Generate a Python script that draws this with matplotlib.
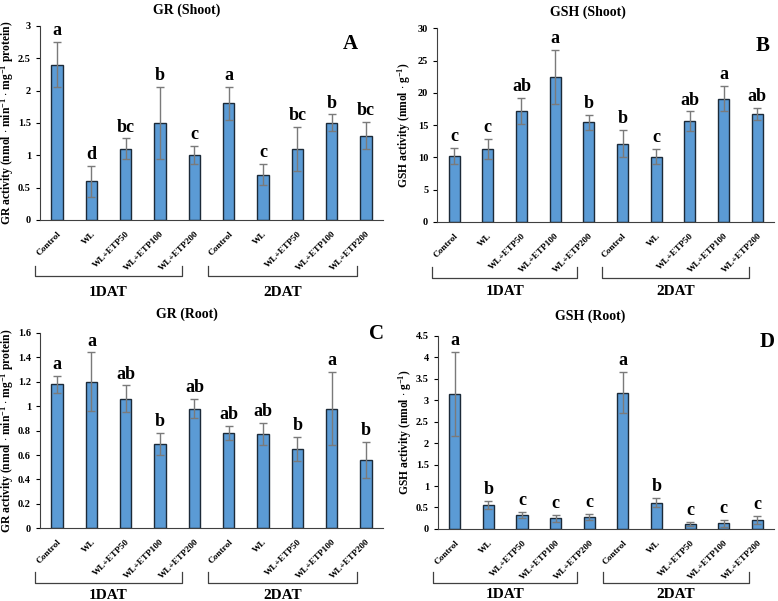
import numpy as np
import matplotlib
matplotlib.use("Agg")
from matplotlib import pyplot as plt
from matplotlib.ticker import FuncFormatter

plt.rcParams['font.family'] = ['Liberation Serif', 'DejaVu Serif']
plt.rcParams['font.weight'] = 'bold'
plt.rcParams['mathtext.fontset'] = 'custom'
plt.rcParams['mathtext.rm'] = 'Liberation Serif:bold'
plt.rcParams['mathtext.default'] = 'rm'

treatments = ['Control', 'WL', 'WL+ETP50', 'WL+ETP100', 'WL+ETP200',
              'Control', 'WL', 'WL+ETP50', 'WL+ETP100', 'WL+ETP200']
groups = ['1DAT', '2DAT']

# GR (Shoot)
gr_shoot = [2.4, 0.6, 1.1, 1.5, 1.0, 1.8, 0.7, 1.1, 1.5, 1.3]
gr_shoot_err = [0.35, 0.24, 0.16, 0.56, 0.14, 0.26, 0.16, 0.34, 0.13, 0.21]
gr_shoot_let = ['a', 'd', 'bc', 'b', 'c', 'a', 'c', 'bc', 'b', 'bc']

# GSH (Shoot)
gsh_shoot = [10.2, 11.3, 17.2, 22.4, 15.4, 12.1, 10.1, 15.6, 19.1, 16.7]
gsh_shoot_err = [1.2, 1.5, 2.0, 4.2, 1.2, 2.1, 1.2, 1.5, 2.0, 1.0]
gsh_shoot_let = ['c', 'c', 'ab', 'a', 'b', 'b', 'c', 'ab', 'a', 'ab']

# GR (Root)
gr_root = [1.18, 1.20, 1.06, 0.69, 0.98, 0.78, 0.77, 0.65, 0.98, 0.56]
gr_root_err = [0.07, 0.24, 0.11, 0.09, 0.08, 0.06, 0.09, 0.10, 0.30, 0.15]
gr_root_let = ['a', 'a', 'ab', 'b', 'ab', 'ab', 'ab', 'b', 'a', 'b']

# GSH (Root)
gsh_root = [3.15, 0.56, 0.33, 0.25, 0.28, 3.18, 0.61, 0.12, 0.13, 0.21]
gsh_root_err = [0.98, 0.09, 0.07, 0.08, 0.07, 0.48, 0.11, 0.05, 0.08, 0.10]
gsh_root_let = ['a', 'b', 'c', 'c', 'c', 'a', 'b', 'c', 'c', 'c']

gr_label = 'GR activity (nmol $\\cdot$ min$^{-1}$ $\\cdot$ mg$^{-1}$ protein)'
gsh_label = 'GSH activity (nmol $\\cdot$ g$^{-1}$)'


def fmt_g(v, pos):
    return '%g' % round(v, 2)


def draw_panel(ax, vals, errs, letters, ymax, step, ylabel, lab_x, brk):
    x = np.arange(len(vals))
    ax.bar(x, vals, width=0.33, color='#5B9BD5', edgecolor='#1c2a38', linewidth=1.0, zorder=2)
    ax.errorbar(x, vals, yerr=errs, fmt='none', ecolor='#7a7a7a', elinewidth=1.0,
                capsize=3, capthick=1.0, zorder=3)
    for xi, v, e, t in zip(x, vals, errs, letters):
        ax.text(xi, v + e + ymax * 0.015, t, ha='center', va='bottom',
                fontsize=13, fontweight='bold')
    ax.set_xlim(-0.5, len(vals) - 0.5)
    ax.set_ylim(0, ymax)
    ax.set_yticks(np.arange(0, ymax + step / 2, step))
    ax.yaxis.set_major_formatter(FuncFormatter(fmt_g))
    ax.set_xticks(x)
    ax.set_xticklabels(treatments, rotation=45, ha='right', rotation_mode='anchor',
                       fontsize=6.7, fontweight='bold')
    ax.tick_params(axis='x', length=0, pad=7)
    ax.tick_params(axis='y', labelsize=7.5, length=3, direction='out', width=0.8)
    for lab in ax.get_yticklabels():
        lab.set_fontweight('bold')
    ax.spines['top'].set_visible(False)
    ax.spines['right'].set_visible(False)
    ax.spines['left'].set_color('#404040')
    ax.spines['bottom'].set_color('#404040')
    ax.set_ylabel(ylabel, fontsize=8.4, fontweight='bold')
    ax.yaxis.set_label_coords(lab_x, 0.5)

    # group brackets below tick labels
    tr = ax.get_xaxis_transform()
    top, bot, lab_y = brk
    spans = [(-0.65, 3.65), (4.4, 8.75)]
    for (x0, x1), g in zip(spans, groups):
        ax.plot([x0, x0, x1, x1], [top, bot, bot, top], transform=tr,
                color='#404040', lw=0.9, clip_on=False)
        ax.text((x0 + x1) / 2, lab_y, g, transform=tr, ha='center', va='center',
                fontsize=11, fontweight='bold')


fig = plt.figure(figsize=(7.78, 6.01), dpi=100)
axA = fig.add_axes([0.0514, 0.634, 0.441, 0.323])
axB = fig.add_axes([0.562, 0.631, 0.433, 0.322])
axC = fig.add_axes([0.0514, 0.121, 0.441, 0.325])
axD = fig.add_axes([0.563, 0.120, 0.432, 0.321])

draw_panel(axA, gr_shoot, gr_shoot_err, gr_shoot_let, 3, 0.5, gr_label, -0.069, (-0.235, -0.29, -0.376))
draw_panel(axB, gsh_shoot, gsh_shoot_err, gsh_shoot_let, 30, 5, gsh_label, -0.071, (-0.232, -0.289, -0.36))
draw_panel(axC, gr_root, gr_root_err, gr_root_let, 1.6, 0.2, gr_label, -0.069, (-0.226, -0.282, -0.344))
draw_panel(axD, gsh_root, gsh_root_err, gsh_root_let, 4.5, 0.5, gsh_label, -0.071, (-0.222, -0.28, -0.342))

titles = [('GR (Shoot)', 187, 10), ('GSH (Shoot)', 588, 12),
          ('GR (Root)', 187, 314), ('GSH (Root)', 590, 316)]
for t, px, py in titles:
    fig.text(px / 778, 1 - py / 601, t, ha='center', va='center', fontsize=10, fontweight='bold')

panels = [('A', 350, 44), ('B', 763, 46), ('C', 377, 334), ('D', 767, 342)]
for t, px, py in panels:
    fig.text(px / 778, 1 - py / 601, t, ha='center', va='center', fontsize=15, fontweight='bold')

fig.savefig('out.png', dpi=100)
